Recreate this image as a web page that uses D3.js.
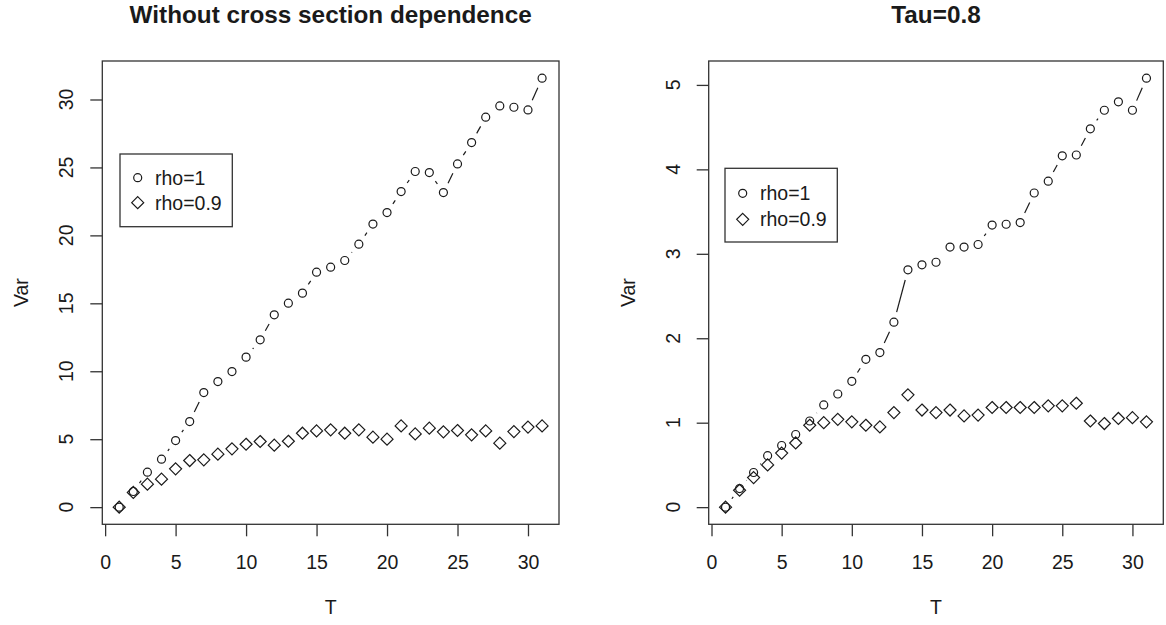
<!DOCTYPE html>
<html>
<head>
<meta charset="utf-8">
<script src="https://cdn.jsdelivr.net/npm/d3@7"></script>
<style>
  body { margin: 0; background: #fff; }
  text { font-family: "Liberation Sans", Arial, sans-serif; fill: #1a1a1a; }
</style>
</head>
<body>
<svg id="chart" width="1166" height="625"></svg>
<script>
const T = d3.range(1, 32);

// left panel: without cross section dependence
const leftRho1 = [0, 1.15, 2.57, 3.53, 4.9, 6.3, 8.43, 9.24, 9.98, 11.04, 12.31, 14.15, 15.01, 15.75, 17.29,
  17.66, 18.15, 19.35, 20.83, 21.68, 23.22, 24.7, 24.62, 23.15, 25.26, 26.83, 28.7, 29.53, 29.43, 29.23, 31.57];
const leftRho09 = [0, 1.08, 1.69, 2.06, 2.82, 3.43, 3.48, 3.9, 4.29, 4.63, 4.83, 4.56, 4.85, 5.44, 5.61,
  5.69, 5.44, 5.69, 5.15, 5.0, 5.98, 5.39, 5.81, 5.54, 5.64, 5.32, 5.61, 4.71, 5.56, 5.89, 5.98];

// right panel: Tau=0.8
const rightRho1 = [0, 0.22, 0.41, 0.61, 0.73, 0.86, 1.02, 1.21, 1.34, 1.49, 1.75, 1.83, 2.19, 2.81, 2.87,
  2.9, 3.08, 3.08, 3.11, 3.34, 3.35, 3.37, 3.72, 3.86, 4.16, 4.17, 4.48, 4.7, 4.8, 4.7, 5.08];
const rightRho09 = [0, 0.2, 0.35, 0.5, 0.64, 0.76, 0.97, 1.0, 1.04, 1.01, 0.97, 0.95, 1.12, 1.33, 1.15,
  1.12, 1.15, 1.08, 1.09, 1.18, 1.18, 1.18, 1.18, 1.2, 1.2, 1.23, 1.02, 0.99, 1.05, 1.06, 1.01];

const xTicks = [0, 5, 10, 15, 20, 25, 30];
const leftYTicks = [0, 5, 10, 15, 20, 25, 30];
const rightYTicks = [0, 1, 2, 3, 4, 5];
const legendLabels = ["rho=1", "rho=0.9"];

const svg = d3.select("#chart");
const ink = "#1a1a1a";
const fs = "19.5px";

function drawPanel(opt) {
    const g = svg.append("g");
    const x = d3.scaleLinear().domain([-0.2, 32.2]).range([opt.left, opt.right]);
    const yMax = d3.max(opt.s1);
    const pad = 0.04 * yMax;
    const y = d3.scaleLinear().domain([-pad, yMax + pad]).range([opt.bottom, opt.top]);

    // box
    g.append("rect")
        .attr("x", opt.left).attr("y", opt.top)
        .attr("width", opt.right - opt.left).attr("height", opt.bottom - opt.top)
        .attr("fill", "none").attr("stroke", "#333").attr("stroke-width", 1.3);

    // x axis
    const xa = g.append("g")
        .attr("transform", `translate(0,${opt.bottom})`)
        .call(d3.axisBottom(x).tickValues(xTicks).tickSize(12).tickPadding(19));
    xa.select(".domain").remove();
    xa.selectAll("line").attr("stroke", "#333").attr("stroke-width", 1.3);
    xa.selectAll("text").attr("font-size", fs).attr("fill", ink)
        .style("font-family", "'Liberation Sans', Arial, sans-serif");

    // y axis, labels parallel to the axis
    const ya = g.append("g")
        .attr("transform", `translate(${opt.left},0)`)
        .call(d3.axisLeft(y).tickValues(opt.yTicks).tickSize(12).tickFormat(""));
    ya.select(".domain").remove();
    ya.selectAll("line").attr("stroke", "#333").attr("stroke-width", 1.3);
    opt.yTicks.forEach(v => {
        g.append("text")
            .attr("transform", `translate(${opt.left - 29},${y(v)}) rotate(-90)`)
            .attr("text-anchor", "middle")
            .attr("font-size", fs)
            .text(v);
    });

    // titles
    g.append("text")
        .attr("x", (opt.left + opt.right) / 2).attr("y", 23)
        .attr("text-anchor", "middle")
        .attr("font-size", "24.3px").attr("font-weight", "bold")
        .text(opt.title);
    g.append("text")
        .attr("x", (opt.left + opt.right) / 2).attr("y", 614)
        .attr("text-anchor", "middle").attr("font-size", fs)
        .text("T");
    g.append("text")
        .attr("transform", `translate(${opt.left - 74},${(opt.top + opt.bottom) / 2}) rotate(-90)`)
        .attr("text-anchor", "middle").attr("font-size", fs)
        .text("Var");

    // type "b" line for rho=1: segments with gaps around points
    const gap = 10.5;
    const pts = T.map((t, i) => [x(t), y(opt.s1[i])]);
    for (let i = 0; i < pts.length - 1; i++) {
        const [x0, y0] = pts[i], [x1, y1] = pts[i + 1];
        const d = Math.hypot(x1 - x0, y1 - y0);
        if (d <= 2 * gap) continue;
        const ux = (x1 - x0) / d, uy = (y1 - y0) / d;
        g.append("line")
            .attr("x1", x0 + ux * gap).attr("y1", y0 + uy * gap)
            .attr("x2", x1 - ux * gap).attr("y2", y1 - uy * gap)
            .attr("stroke", ink).attr("stroke-width", 1.2);
    }

    g.selectAll(".c1").data(opt.s1).join("circle")
        .attr("cx", (d, i) => x(T[i])).attr("cy", d => y(d)).attr("r", 4)
        .attr("fill", "none").attr("stroke", ink).attr("stroke-width", 1.2);

    const diamond = s => `M0,${-s}L${s},0L0,${s}L${-s},0Z`;
    g.selectAll(".c2").data(opt.s2).join("path")
        .attr("transform", (d, i) => `translate(${x(T[i])},${y(d)})`)
        .attr("d", diamond(6))
        .attr("fill", "none").attr("stroke", ink).attr("stroke-width", 1.2);

    // legend
    const lg = opt.legend;
    g.append("rect")
        .attr("x", lg.x).attr("y", lg.y).attr("width", lg.w).attr("height", lg.h)
        .attr("fill", "white").attr("stroke", "#333").attr("stroke-width", 1.3);
    legendLabels.forEach((lab, i) => {
        const ry = lg.y + lg.row0 + i * lg.step;
        if (i === 0) {
            g.append("circle").attr("cx", lg.x + 17.7).attr("cy", ry).attr("r", 4)
                .attr("fill", "none").attr("stroke", ink).attr("stroke-width", 1.2);
        } else {
            g.append("path").attr("transform", `translate(${lg.x + 17.7},${ry})`)
                .attr("d", diamond(6))
                .attr("fill", "none").attr("stroke", ink).attr("stroke-width", 1.2);
        }
        g.append("text")
            .attr("x", lg.x + 35).attr("y", ry + 7)
            .attr("font-size", fs)
            .text(lab);
    });
}

drawPanel({
    left: 102.3, right: 559, top: 61, bottom: 524.3,
    s1: leftRho1, s2: leftRho09, yTicks: leftYTicks,
    title: "Without cross section dependence",
    legend: {x: 120, y: 154, w: 112.3, h: 72.7, row0: 23.7, step: 25}
});

drawPanel({
    left: 708.7, right: 1163.3, top: 61, bottom: 524.3,
    s1: rightRho1, s2: rightRho09, yTicks: rightYTicks,
    title: "Tau=0.8",
    legend: {x: 725, y: 168.3, w: 112.3, h: 73.7, row0: 25, step: 26}
});
</script>
</body>
</html>
